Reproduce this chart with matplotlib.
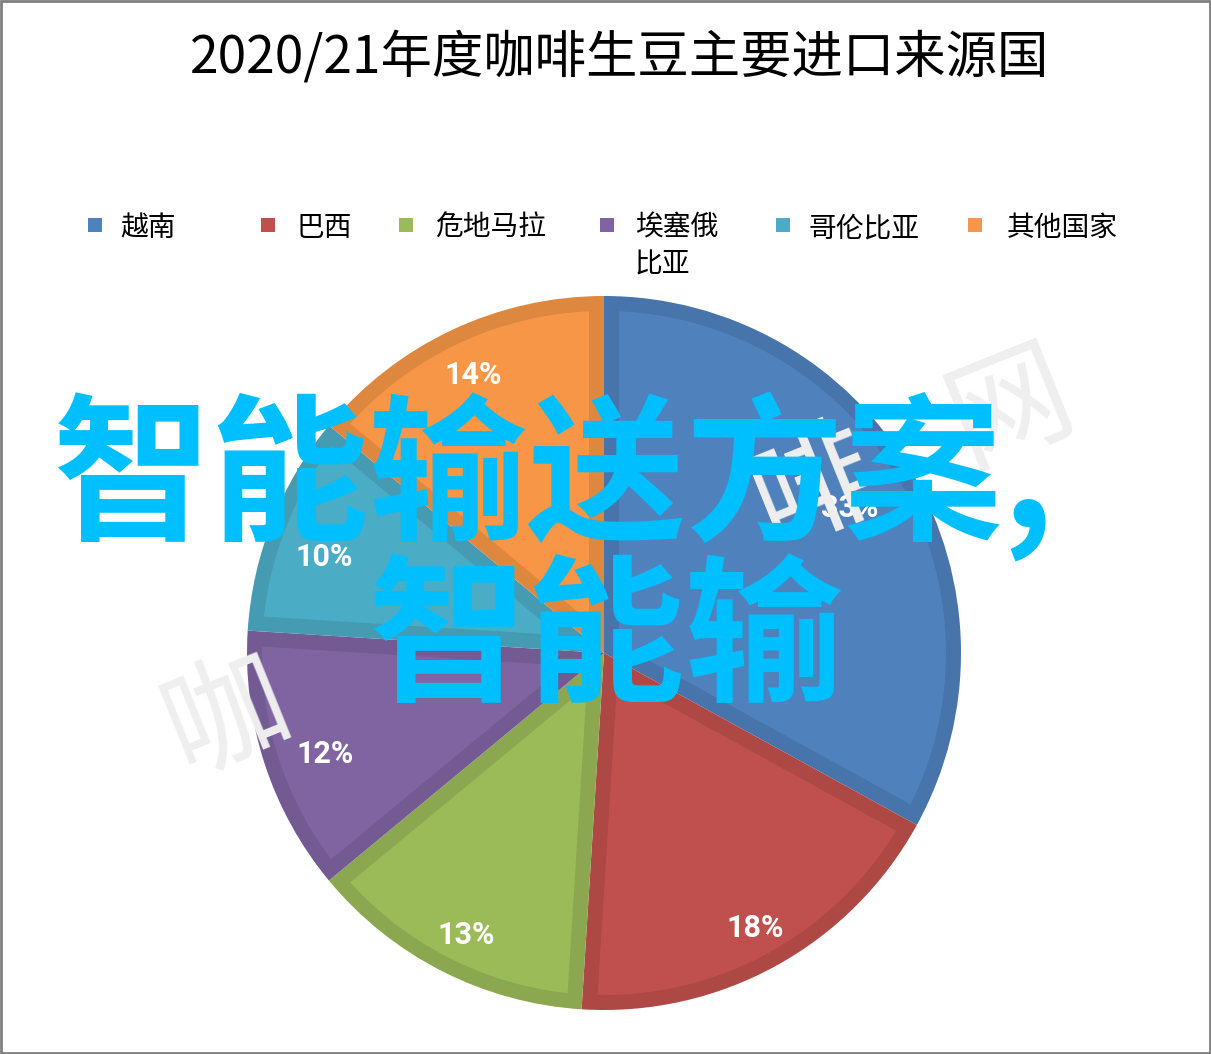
import matplotlib
matplotlib.use('Agg')
import matplotlib.pyplot as plt
from matplotlib.patches import Rectangle, Polygon
import matplotlib.colors as mcolors
import numpy as np

plt.rcParams['font.family'] = ['Noto Sans CJK SC', 'DejaVu Sans']

title = '2020/21年度咖啡生豆主要进口来源国'
countries = ['越南', '巴西', '危地马拉', '埃塞俄比亚', '哥伦比亚', '其他国家']
legend_labels = ['越南', '巴西', '危地马拉', '埃塞俄\n比亚', '哥伦比亚', '其他国家']
shares = [33, 18, 13, 12, 10, 14]
colors = ['#4F81BD', '#C0504D', '#9BBB59', '#8064A2', '#4BACC6', '#F79646']
overlay_lines = ['智能输送方案,', '智能输']
watermark_chars = ['咖', '啡', '网']

W, H = 1211, 1054
fig = plt.figure(figsize=(W / 100, H / 100), dpi=100)
fig.patch.set_facecolor('white')


def fx(px):
    return px / W


def fy(py):
    return 1 - py / H


def darker(c, k=0.9):
    return tuple(np.array(mcolors.to_rgb(c)) * k)


# outer frame
fig.patches.append(Rectangle((0.0008, 0.001), 0.9984, 0.998, transform=fig.transFigure,
                             fill=False, edgecolor='#808080', lw=2, zorder=0))

# title
fig.text(fx(620), fy(58), title, ha='center', va='center', fontsize=37, color='black')

# legend (manual layout like Excel)
marker_x = [88, 261, 399, 600, 776, 968]
text_x = [120, 297, 435, 635, 808, 1007]
for lab, col, mx, tx in zip(legend_labels, colors, marker_x, text_x):
    fig.patches.append(Rectangle((fx(mx), fy(232)), 14 / W, 14 / H, transform=fig.transFigure,
                                 facecolor=col, edgecolor='none'))
    fig.text(fx(tx), fy(213), lab, ha='left', va='top', fontsize=20, linespacing=1.3,
             color='black')

# pie: dark base wedges from the library, then lighter inset faces (bevel look)
cx, cy, r = 604, 653, 357
ax = fig.add_axes([fx(cx - r), fy(cy + r), 2 * r / W, 2 * r / H])
wedges, texts, autotexts = ax.pie(
    shares, colors=[darker(c) for c in colors], startangle=90, counterclock=False,
    autopct=lambda p: f'{p:.0f}%', pctdistance=0.86,
    wedgeprops=dict(linewidth=0),
    textprops=dict(color='white', fontsize=22, fontweight='bold',
                   family=['Roboto', 'DejaVu Sans']))

d = 15.0 / r  # bevel width in data units
for w, c in zip(wedges, colors):
    t1, t2 = np.radians(w.theta1), np.radians(w.theta2)
    R = w.r
    half = (t2 - t1) / 2
    mid = (t1 + t2) / 2
    apex = (d / np.sin(half)) * np.array([np.cos(mid), np.sin(mid)])
    da = np.arcsin(d / (R - d))
    arc = np.linspace(t1 + da, t2 - da, 200)
    pts = [apex] + [(R - d) * np.array([np.cos(a), np.sin(a)]) for a in arc]
    ax.add_patch(Polygon(np.array(pts), closed=True, facecolor=c, edgecolor='none', zorder=1.5))

# Excel-like label placement (per-slice distance / slight angle shift)
label_dist = [0.80, 0.88, 0.88, 0.83, 0.83, 0.86]
label_shift = [0.0, 0.0, 1.0, 2.0, 2.6, 0.0]
for w, t, ld, sh in zip(wedges, autotexts, label_dist, label_shift):
    mid = np.radians((w.theta1 + w.theta2) / 2 + sh)
    t.set_position((ld * np.cos(mid), ld * np.sin(mid)))
    t.set_zorder(3)

ax.set_xlim(-1, 1)
ax.set_ylim(-1, 1)
ax.set_aspect('equal')
ax.axis('off')

# faint watermark
wm_pos = [(228, 718), (815, 488), (1010, 408)]
for ch, (px, py) in zip(watermark_chars, wm_pos):
    fig.text(fx(px), fy(py), ch, ha='center', va='center', fontsize=88, rotation=22,
             color='#efefef', zorder=4)

# cyan overlay text
fig.text(fx(52), fy(477), overlay_lines[0], ha='left', va='center', fontsize=114,
         fontweight='bold', color='#00BFFF', zorder=6)
fig.text(fx(368), fy(643), overlay_lines[1], ha='left', va='center', fontsize=114,
         fontweight='bold', color='#00BFFF', zorder=6)

fig.savefig('out.png', dpi=100, facecolor='white')
